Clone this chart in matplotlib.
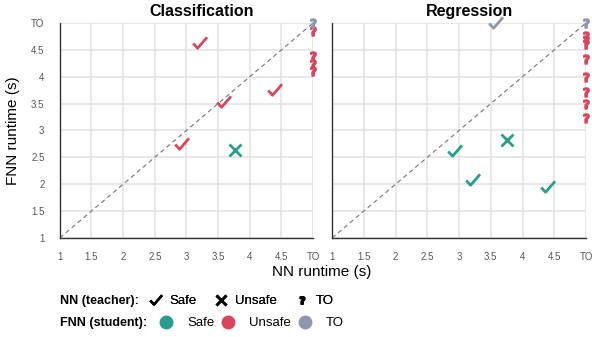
import numpy as np
import matplotlib
matplotlib.use("Agg")
import matplotlib.pyplot as plt
from matplotlib.lines import Line2D
from matplotlib.path import Path

plt.rcParams['font.family'] = ['Liberation Sans', 'DejaVu Sans']

TO = 5.0
teal = '#2a9d8f'
red = '#d7465b'
gray = '#8d97b0'

# Classification: (NN runtime, FNN runtime)
cls_safe_unsafe_x = [2.93, 3.21, 3.59, 4.40]      # NN safe, FNN unsafe
cls_safe_unsafe_y = [2.74, 4.63, 3.52, 3.75]
cls_unsafe_safe_x = [3.76]                         # NN unsafe, FNN safe
cls_unsafe_safe_y = [2.64]
cls_to_unsafe_y = [4.85, 4.38, 4.23, 4.10]         # NN TO, FNN unsafe
cls_to_to = [(TO, TO)]

# Regression
reg_safe_safe_x = [2.94, 3.22, 4.40]
reg_safe_safe_y = [2.61, 2.08, 1.95]
reg_unsafe_safe_x = [3.76]
reg_unsafe_safe_y = [2.83]
reg_safe_to_x = [3.58]                             # NN safe, FNN TO
reg_to_unsafe_y = [4.76, 4.68, 4.61, 4.33, 3.99, 3.71, 3.49, 3.24]
reg_to_to = [(TO, TO)]

ticks = [1, 1.5, 2, 2.5, 3, 3.5, 4, 4.5, 5]
tick_labels = ['1', '1.5', '2', '2.5', '3', '3.5', '4', '4.5', 'TO']

CHECK = Path([(-1.0, 0.0), (-0.4, -0.65), (0.9, 0.85)],
             [Path.MOVETO, Path.LINETO, Path.LINETO])
QMARK = r'$\mathbf{?}$'

fig = plt.figure(figsize=(5.92, 3.37), dpi=100)
ax1 = fig.add_axes([0.101, 0.294, 0.428, 0.638])
ax2 = fig.add_axes([0.561, 0.294, 0.429, 0.638])


def style(ax, show_y):
    ax.set_xlim(1, 5)
    ax.set_ylim(1, 5)
    ax.set_xticks(ticks)
    ax.set_yticks(ticks)
    ax.set_xticklabels(tick_labels)
    ax.set_yticklabels(tick_labels if show_y else [])
    ax.tick_params(length=0, labelsize=7, labelcolor='#555555')
    ax.tick_params(axis='x', pad=10)
    ax.tick_params(axis='y', pad=11)
    ax.grid(True, color='#e2e2e2', linewidth=1.1)
    ax.set_axisbelow(True)
    for s in ['top', 'right']:
        ax.spines[s].set_visible(False)
    for s in ['left', 'bottom']:
        ax.spines[s].set_color('#333333')
        ax.spines[s].set_linewidth(1.0)
    ax.plot([1, 5], [1, 5], linestyle=(0, (4, 3)), color='#6f7480', linewidth=0.8, zorder=1)


style(ax1, True)
style(ax2, False)

kw = dict(linestyle='none', clip_on=False, zorder=3)
ck = dict(marker=CHECK, markersize=10.5, mew=2, mfc='none')
qk = dict(marker=QMARK, markersize=6.5)

# Classification
ax1.plot(cls_safe_unsafe_x, cls_safe_unsafe_y, color=red, **ck, **kw)
ax1.plot(cls_unsafe_safe_x, cls_unsafe_safe_y, marker='x', color=teal, markersize=8, mew=2, **kw)
ax1.plot([TO] * len(cls_to_unsafe_y), cls_to_unsafe_y, color=red, **qk, **kw)
ax1.plot([p[0] for p in cls_to_to], [p[1] for p in cls_to_to], color=gray, **qk, **kw)
ax1.set_title('Classification', fontsize=11.5, fontweight='bold', x=0.56, pad=5)

# Regression
ax2.plot(reg_safe_safe_x, reg_safe_safe_y, color=teal, **ck, **kw)
ax2.plot(reg_unsafe_safe_x, reg_unsafe_safe_y, marker='x', color=teal, markersize=8, mew=2, **kw)
ax2.plot(reg_safe_to_x, [TO] * len(reg_safe_to_x), color=gray, **ck, **kw)
ax2.plot([TO] * len(reg_to_unsafe_y), reg_to_unsafe_y, color=red, **qk, **kw)
ax2.plot([p[0] for p in reg_to_to], [p[1] for p in reg_to_to], color=gray, **qk, **kw)
ax2.set_title('Regression', fontsize=11.5, fontweight='bold', x=0.54, pad=5)

ax1.set_ylabel('FNN runtime (s)', fontsize=11, labelpad=8)
fig.text(0.544, 1 - 272 / 337, 'NN runtime (s)', fontsize=11, ha='center', va='center')

# legend rows
fig.text(60 / 592, 1 - 301 / 337, 'NN (teacher):', fontsize=9, fontweight='bold', va='center')
fig.text(60 / 592, 1 - 323 / 337, 'FNN (student):', fontsize=9, fontweight='bold', va='center')

h1 = [Line2D([], [], linestyle='none', color='black', marker=CHECK, markersize=9, mew=1.8, mfc='none'),
      Line2D([], [], linestyle='none', marker='x', color='black', markersize=7, mew=2),
      Line2D([], [], linestyle='none', marker=QMARK, color='black', markersize=5.5)]
leg1 = fig.legend(h1, ['Safe', 'Unsafe', 'TO'], loc='center left', ncol=3, frameon=False,
                  bbox_to_anchor=(148 / 592, 1 - 301 / 337), fontsize=9.5,
                  handlelength=1.2, handletextpad=0.45, columnspacing=1.25, borderpad=0, borderaxespad=0)

h2 = [Line2D([], [], linestyle='none', marker='o', color=c, markersize=9) for c in [teal, red, gray]]
leg2 = fig.legend(h2, ['Safe', 'Unsafe', 'TO'], loc='center left', ncol=3, frameon=False,
                  bbox_to_anchor=(158 / 592, 1 - 323 / 337), fontsize=9.5,
                  handlelength=1.2, handletextpad=1.0, columnspacing=0.45, borderpad=0, borderaxespad=0)
fig.add_artist(leg1)

fig.savefig('out.png', dpi=100)
